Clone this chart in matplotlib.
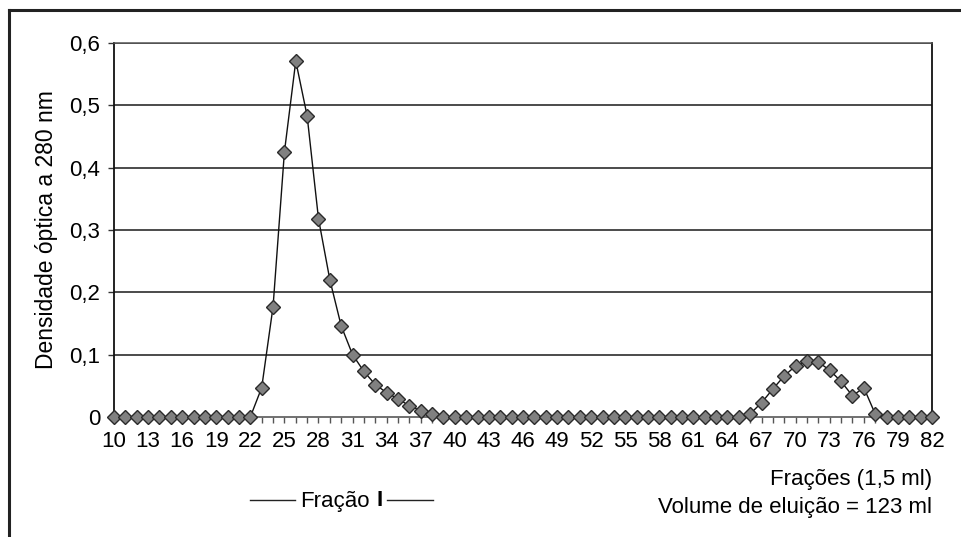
import numpy as np
import matplotlib
matplotlib.use('Agg')
import matplotlib.pyplot as plt
from matplotlib.lines import Line2D

plt.rcParams['font.family'] = ['Liberation Sans', 'DejaVu Sans']
plt.rcParams['font.size'] = 16

# Frações 10 a 82
fracoes = list(range(10, 83))
densidade = [
    0, 0, 0, 0, 0, 0, 0, 0, 0, 0, 0, 0, 0,                  # 10-22
    0.047, 0.177, 0.425, 0.571, 0.483, 0.318, 0.220, 0.146,  # 23-30
    0.100, 0.073, 0.052, 0.039, 0.029, 0.018, 0.010, 0.004,  # 31-38
    0, 0, 0, 0, 0, 0, 0, 0, 0, 0, 0, 0, 0, 0,               # 39-52
    0, 0, 0, 0, 0, 0, 0, 0, 0, 0, 0, 0, 0,                  # 53-65
    0.005, 0.023, 0.045, 0.066, 0.082, 0.090, 0.088, 0.075,  # 66-73
    0.057, 0.034, 0.047, 0.005,                              # 74-77
    0, 0, 0, 0, 0,                                           # 78-82
]
y_ticks = [0, 0.1, 0.2, 0.3, 0.4, 0.5, 0.6]
y_labels = ['0', '0,1', '0,2', '0,3', '0,4', '0,5', '0,6']

fig = plt.figure(figsize=(9.62, 5.37), dpi=100)
ax = fig.add_axes([0.1185, 0.2235, 0.8503, 0.6965])

# linhas de grade horizontais
for yt in y_ticks[1:]:
    ax.axhline(yt, color='#1a1a1a', linewidth=1.1, zorder=1)

ax.plot(fracoes, densidade, color='#111111', linewidth=1.0,
        marker='D', markersize=7, markerfacecolor='#808080',
        markeredgecolor='#2a2a2a', markeredgewidth=1.0, zorder=3,
        clip_on=False)

ax.set_xlim(10, 82)
ax.set_ylim(0, 0.6)
ax.set_yticks(y_ticks)
ax.set_yticklabels(y_labels)
ax.set_xticks(fracoes)
ax.set_xticklabels([str(f) if (f - 10) % 3 == 0 else '' for f in fracoes])
ax.tick_params(axis='x', length=4.3, width=1, color='#555555', pad=6, labelsize=16)
ax.tick_params(axis='y', length=4, width=1, color='#333333', pad=6, labelsize=16)

for s in ['left', 'right']:
    ax.spines[s].set_color('#111111')
    ax.spines[s].set_linewidth(1.3)
ax.spines['top'].set_color('#555555')
ax.spines['top'].set_linewidth(1.1)
ax.spines['bottom'].set_color('#666666')
ax.spines['bottom'].set_linewidth(1.3)

ax.set_ylabel('Densidade óptica a 280 nm', fontsize=16.5, labelpad=8)

fig.text(932 / 962, 1 - 480 / 537, 'Frações (1,5 ml)', ha='right', va='center', fontsize=16)
fig.text(932 / 962, 1 - 507 / 537, 'Volume de eluição = 123 ml', ha='right', va='center', fontsize=16)
fig.text(300 / 962, 1 - 501 / 537, 'Fração', ha='left', va='center', fontsize=16)
fig.text(377 / 962, 1 - 501 / 537, 'I', ha='left', va='center', fontsize=16, fontweight='bold')

# traços ao lado de "Fração I" e moldura externa
fig.add_artist(Line2D([250 / 962, 295 / 962], [1 - 500 / 537] * 2, color='#222222', lw=1.0))
fig.add_artist(Line2D([387 / 962, 433 / 962], [1 - 500 / 537] * 2, color='#222222', lw=1.0))
fig.add_artist(Line2D([9 / 962, 1.0], [1 - 10 / 537] * 2, color='#222222', lw=2.2))
fig.add_artist(Line2D([9 / 962, 9 / 962], [0, 1 - 10 / 537], color='#222222', lw=2.2))

fig.savefig('out.png', dpi=100)
